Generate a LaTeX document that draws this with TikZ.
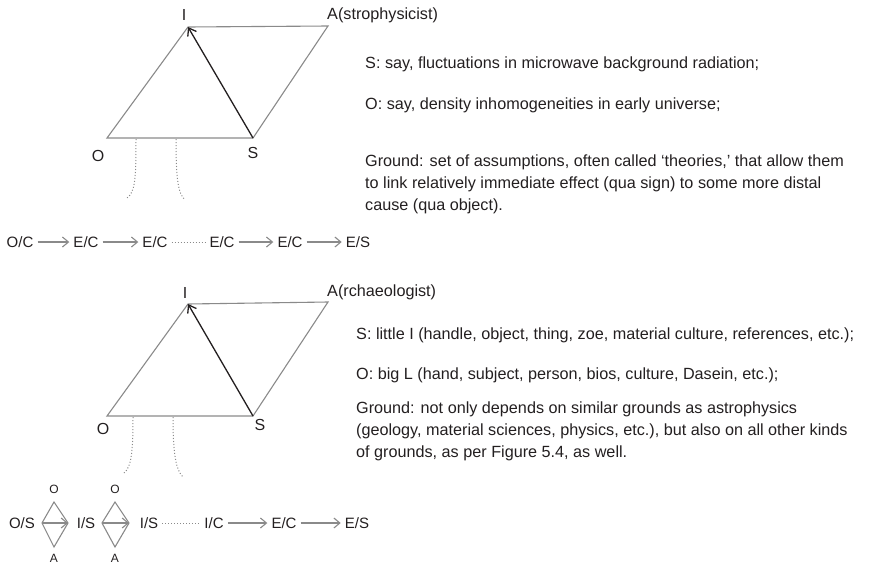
\documentclass[tikz,border=0pt]{standalone}
\usepackage{fontspec}
\setmainfont{Liberation Sans}
\usetikzlibrary{arrows.meta, positioning}
\definecolor{mGray}{HTML}{8A8A8A}
\definecolor{mInk}{HTML}{231F20}

\tikzset{
  edge/.style={draw=mGray, line width=1.1pt},
  signarrow/.style={draw=mInk, line width=1.3pt, -{Straight Barb[length=7pt,width=10pt]}},
  chainarrow/.style={draw=mGray, line width=1.1pt, -{Straight Barb[length=6pt,width=10pt]}},
  chaindots/.style={draw=mGray, line width=1pt, dotted},
  trail/.style={draw=mGray, line width=1pt, dotted},
  vlabel/.style={font=\fontsize{16}{16}\selectfont, text=mInk, inner sep=0pt},
  slabel/.style={font=\fontsize{12}{12}\selectfont, text=mInk, inner sep=0pt},
  chainlabel/.style={font=\fontsize{15}{15}\selectfont, text=mInk, inner sep=4pt},
  note/.style={font=\fontsize{16.2}{22}\selectfont, text=mInk, anchor=west, align=left, inner sep=0pt},
}

\begin{document}
\begin{tikzpicture}[x=1pt, y=-1pt]
  \useasboundingbox (0,0) rectangle (875,568);

  % astrophysicist
  \coordinate (O1) at (107,138);
  \coordinate (I1) at (188,27);
  \coordinate (A1) at (328,26);
  \coordinate (S1) at (253,138);
  \draw[edge] (O1) -- (I1) -- (A1) -- (S1) -- cycle;
  \draw[signarrow] (S1) -- (I1);
  \node[vlabel] (lI1) at (184,15) {I};
  \node[vlabel] (lO1) at (98,156) {O};
  \node[vlabel] (lS1) at (253,153) {S};
  \node[note] (lA1) at (327,15) {A(strophysicist)};

  \coordinate (t1a) at (136,139);
  \coordinate (t1b) at (127,198);
  \coordinate (t1c) at (176,139);
  \coordinate (t1d) at (185,200);
  \draw[trail] (t1a) .. controls (136,180) and (135,192) .. (t1b);
  \draw[trail] (t1c) .. controls (176,180) and (178,193) .. (t1d);

  \node[note] (n1s) at (365,64) {S: say, fluctuations in microwave background radiation;};
  \node[note] (n1o) at (365,105) {O: say, density inhomogeneities in early universe;};
  \node[note] (n1g) at (365,184) {Ground: set of assumptions, often called `theories,' that allow them\\
    to link relatively immediate effect (qua sign) to some more distal\\
    cause (qua object).};

  % chain 1
  \node[chainlabel] (c1) at (20,242) {O/C};
  \node[chainlabel] (c2) at (86,242) {E/C};
  \node[chainlabel] (c3) at (155,242) {E/C};
  \node[chainlabel] (c4) at (222,242) {E/C};
  \node[chainlabel] (c5) at (290,242) {E/C};
  \node[chainlabel] (c6) at (358,242) {E/S};
  \draw[chainarrow] (c1) -- (c2);
  \draw[chainarrow] (c2) -- (c3);
  \draw[chaindots] (c3) -- (c4);
  \draw[chainarrow] (c4) -- (c5);
  \draw[chainarrow] (c5) -- (c6);

  % archaeologist
  \coordinate (O2) at (107,416);
  \coordinate (I2) at (188,304);
  \coordinate (A2) at (328,302);
  \coordinate (S2) at (253,416);
  \draw[edge] (O2) -- (I2) -- (A2) -- (S2) -- cycle;
  \draw[signarrow] (S2) -- (I2);
  \node[vlabel] (lI2) at (185,293) {I};
  \node[vlabel] (lO2) at (103,429) {O};
  \node[vlabel] (lS2) at (260,425) {S};
  \node[note] (lA2) at (327,292) {A(rchaeologist)};

  \coordinate (t2a) at (133,417);
  \coordinate (t2b) at (124,473);
  \coordinate (t2c) at (173,417);
  \coordinate (t2d) at (183,477);
  \draw[trail] (t2a) .. controls (133,455) and (131,467) .. (t2b);
  \draw[trail] (t2c) .. controls (173,455) and (176,470) .. (t2d);

  \node[note] (n2s) at (356,335) {S: little I (handle, object, thing, zoe, material culture, references, etc.);};
  \node[note] (n2o) at (356,375) {O: big L (hand, subject, person, bios, culture, Dasein, etc.);};
  \node[note] (n2g) at (356,431) {Ground: not only depends on similar grounds as astrophysics\\
    (geology, material sciences, physics, etc.), but also on all other kinds\\
    of grounds, as per Figure 5.4, as well.};

  % chain 2
  \node[chainlabel] (d1) at (22,523) {O/S};
  \coordinate (r1l) at (42,523);
  \coordinate (r1t) at (54,502);
  \coordinate (r1r) at (68,523);
  \coordinate (r1b) at (54,547);
  \draw[edge] (r1l) -- (r1t) -- (r1r) -- (r1b) -- cycle;
  \draw[chainarrow] (r1l) -- (r1r);
  \node[slabel] (r1o) at (54,489) {O};
  \node[slabel] (r1a) at (54,558) {A};
  \node[chainlabel] (d2) at (86,523) {I/S};
  \coordinate (r2l) at (102,523);
  \coordinate (r2t) at (115,502);
  \coordinate (r2r) at (129,523);
  \coordinate (r2b) at (115,547);
  \draw[edge] (r2l) -- (r2t) -- (r2r) -- (r2b) -- cycle;
  \draw[chainarrow] (r2l) -- (r2r);
  \node[slabel] (r2o) at (115,489) {O};
  \node[slabel] (r2a) at (115,558) {A};
  \node[chainlabel] (d3) at (149,523) {I/S};
  \node[chainlabel] (d4) at (214,523) {I/C};
  \node[chainlabel] (d5) at (284,523) {E/C};
  \node[chainlabel] (d6) at (357,523) {E/S};
  \draw[chaindots] (d3) -- (d4);
  \draw[chainarrow] (d4) -- (d5);
  \draw[chainarrow] (d5) -- (d6);
\end{tikzpicture}
\end{document}
